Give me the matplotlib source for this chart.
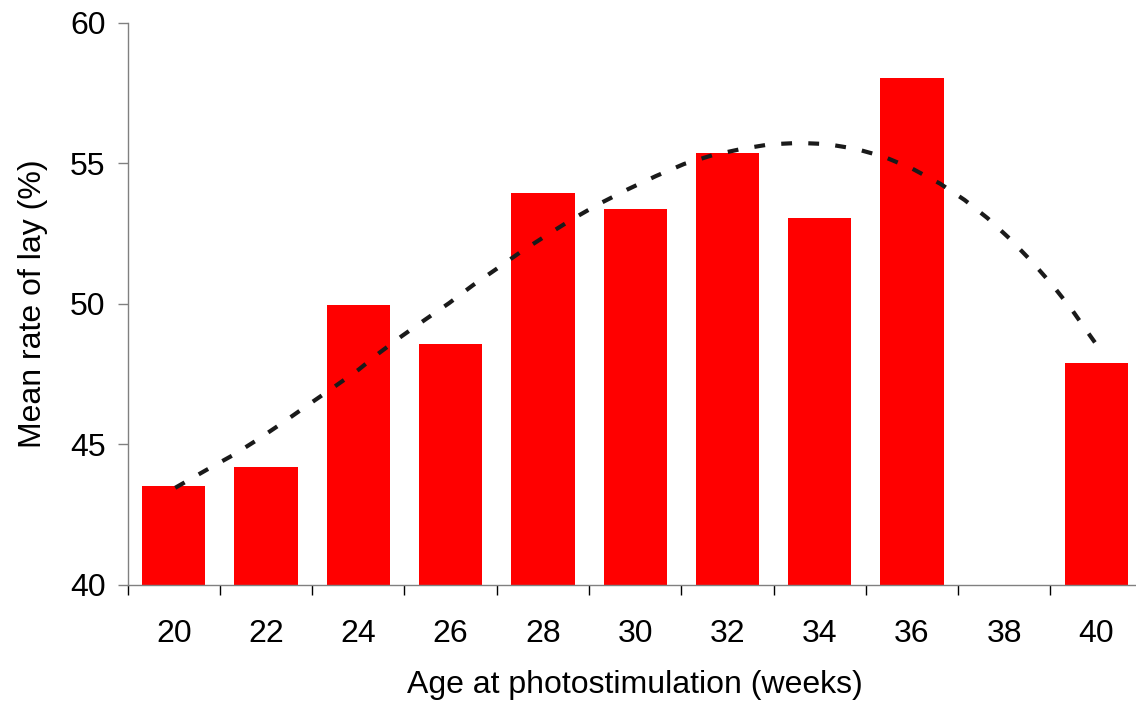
import matplotlib
matplotlib.use("Agg")
import matplotlib.pyplot as plt
import numpy as np

plt.rcParams['font.family'] = ['Liberation Sans', 'DejaVu Sans']

# Data
ages = [20, 22, 24, 26, 28, 30, 32, 34, 36, 38, 40]
lay_rate = [43.5, 44.2, 49.95, 48.57, 53.94, 53.37, 55.37, 53.05, 58.04, None, 47.9]

# Polynomial trend line
trend_x = [20.03, 20.71, 21.29, 21.83, 22.37, 22.90, 23.43, 24.0, 24.45, 24.94, 25.45,
           25.97, 26.48, 27.00, 27.53, 28.07, 28.62, 29.22, 29.83, 30.45, 31.06,
           31.67, 32.29, 32.92, 33.55, 34.15, 34.78, 35.39, 36.00, 36.61, 37.14,
           37.64, 38.12, 38.59, 39.04, 39.45, 39.83, 40.0]
trend_y = [43.45, 44.09, 44.62, 45.18, 45.78, 46.39, 46.99, 47.65, 48.25, 48.85, 49.44,
           50.03, 50.66, 51.25, 51.86, 52.43, 53.00, 53.56, 54.07, 54.55, 54.98,
           55.29, 55.51, 55.68, 55.73, 55.69, 55.52, 55.24, 54.82, 54.28, 53.70,
           53.05, 52.32, 51.52, 50.68, 49.83, 48.94, 48.55]

yticks = [40, 45, 50, 55, 60]

FS = 23

fig = plt.figure(figsize=(11.36, 7.04), dpi=100)
ax = fig.add_axes([127.7 / 1136, (704 - 584.7) / 704,
                   (1142.6 - 127.7) / 1136, (584.7 - 23) / 704])

bx = [a for a, v in zip(ages, lay_rate) if v is not None]
bv = [v for v in lay_rate if v is not None]
ax.bar(bx, [v - 40 for v in bv], bottom=40, width=1.372, color='#ff0000', zorder=2)

ax.plot(trend_x, trend_y, color='#1a1a1a', linewidth=3.0,
        linestyle=(0, (2.6, 3.9)), zorder=3, dash_capstyle='butt')

ax.set_xlim(19, 41)
ax.set_ylim(40, 60)
ax.set_yticks(yticks)
ax.set_xticks(ages)
ax.set_xticks([a - 1 for a in ages] + [41], minor=True)

for s in ['top', 'right']:
    ax.spines[s].set_visible(False)
for s in ['left', 'bottom']:
    ax.spines[s].set_color('#808080')
    ax.spines[s].set_linewidth(1.0)

ax.tick_params(axis='y', which='major', length=7.5, width=1.0, color='#808080',
               direction='out', pad=8.5, labelsize=FS)
ax.tick_params(axis='x', which='major', length=0, pad=25, labelsize=FS)
ax.tick_params(axis='x', which='minor', length=7.5, width=1.0, color='#000000',
               direction='out')

ax.set_xlabel('Age at photostimulation (weeks)', fontsize=FS, labelpad=15)
ax.set_ylabel('Mean rate of lay (%)', fontsize=FS, labelpad=16)

fig.savefig('out.png', dpi=100)
